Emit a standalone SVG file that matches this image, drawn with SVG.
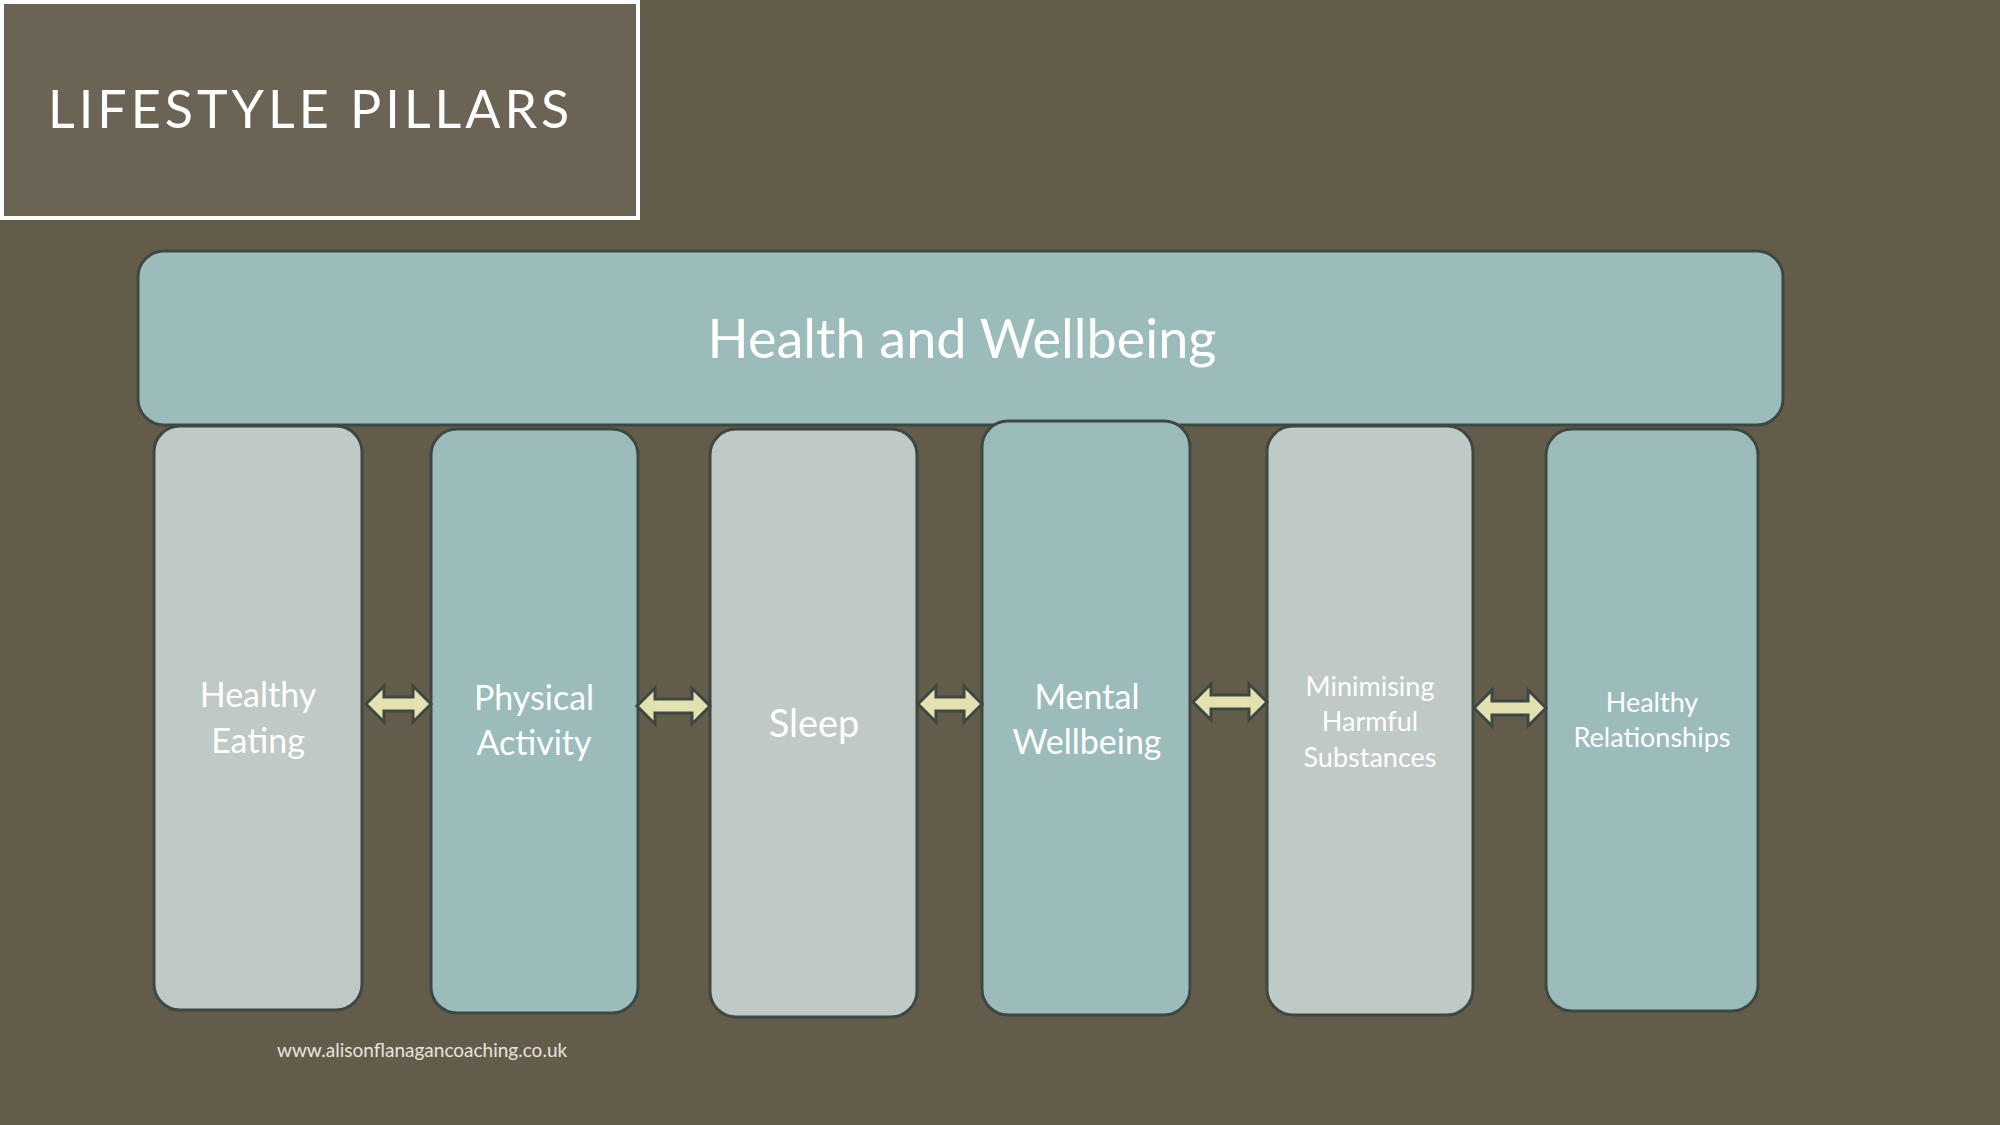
<svg xmlns="http://www.w3.org/2000/svg" width="2000" height="1125" viewBox="0 0 2000 1125">
<style>
.p{stroke:#3e4842;stroke-width:3}
.l{fill:#bfc9c5}.t{fill:#9bbcbb}
text{font-family:Lato,"Open Sans",sans-serif;fill:#fff;text-anchor:middle}
.a{fill:#e3e1b0;stroke:#3e4842;stroke-width:3}
</style>
<rect width="2000" height="1125" fill="#645c4b"/>
<g id="title"><rect x="2" y="2" width="636" height="216" fill="#6b6353" stroke="#fff" stroke-width="4"/>
<text x="48" y="128" font-size="52" letter-spacing="4" style="text-anchor:start">LIFESTYLE PILLARS</text></g>
<g id="top"><rect class="p t" x="138" y="251" width="1645" height="174" rx="26"/>
<text x="962" y="358" font-size="54">Health and Wellbeing</text></g>
<g id="n1"><rect class="p l" x="154" y="426" width="208" height="584" rx="26"/>
<text x="258" y="707" font-size="34">Healthy</text><text x="258" y="753" font-size="34">Eating</text></g>
<g id="n2"><rect class="p t" x="431" y="429" width="207" height="584" rx="26"/>
<text x="534" y="710" font-size="34">Physical</text><text x="534" y="755" font-size="34">Activity</text></g>
<g id="n3"><rect class="p l" x="710" y="429" width="207" height="588" rx="26"/>
<text x="814" y="737" font-size="38">Sleep</text></g>
<g id="n4"><rect class="p t" x="982" y="421" width="208" height="594" rx="26"/>
<text x="1087" y="709" font-size="34">Mental</text><text x="1087" y="754" font-size="34">Wellbeing</text></g>
<g id="n5"><rect class="p l" x="1267" y="426" width="206" height="589" rx="26"/>
<text x="1370" y="696" font-size="27">Minimising</text><text x="1370" y="731" font-size="27">Harmful</text><text x="1370" y="767" font-size="27">Substances</text></g>
<g id="n6"><rect class="p t" x="1546" y="429" width="212" height="582" rx="26"/>
<text x="1652" y="712" font-size="27">Healthy</text><text x="1652" y="747" font-size="27">Relationships</text></g>
<g id="connectors">
<polygon class="a" points="366,704 384,686 384,697 413,697 413,686 431,704 413,722 413,711 384,711 384,722"/>
<polygon class="a" points="637,706 655,688 655,699 692,699 692,688 710,706 692,724 692,713 655,713 655,724"/>
<polygon class="a" points="918,704 936,686 936,697 964,697 964,686 982,704 964,722 964,711 936,711 936,722"/>
<polygon class="a" points="1193,702 1211,684 1211,695 1249,695 1249,684 1267,702 1249,720 1249,709 1211,709 1211,720"/>
<polygon class="a" points="1474,708 1492,690 1492,701 1528,701 1528,690 1546,708 1528,726 1528,715 1492,715 1492,726"/>
</g>
<text x="277" y="1057" font-size="19" fill="#e6e4dc" style="text-anchor:start;fill:#e6e4dc">www.alisonflanagancoaching.co.uk</text>
</svg>
